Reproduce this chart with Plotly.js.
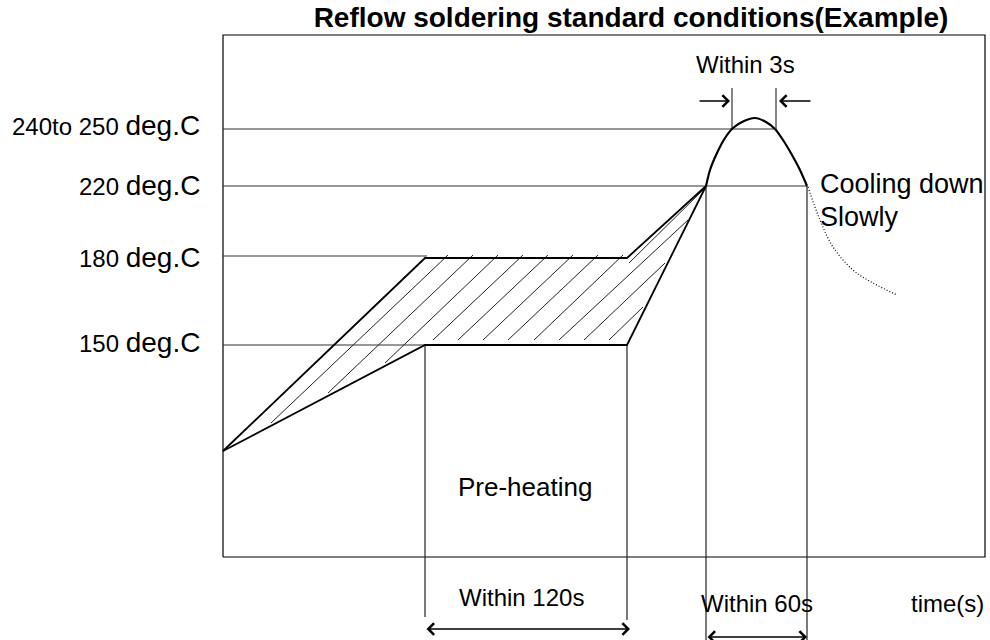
<!DOCTYPE html>
<html>
<head>
<meta charset="utf-8">
<script src="https://cdn.plot.ly/plotly-3.0.1.min.js"></script>
<style>html,body{margin:0;padding:0;background:#fff;}#chart{width:990px;height:640px;}</style>
</head>
<body>
<div id="chart"></div>
<script>
// ---- schematic data (x: time axis units, y: temperature level units) ----
const levelLabels = ['240to 250', '220', '180', '150'];
const levelY      = [428, 371, 301, 212];
const levelLineEnd = [552, 584, 204, 202];
const levelLabelY = [432, 372, 300, 215];

const upperX = [0, 202, 404, 483];
const upperY = [106, 299, 299, 371];
const lowerX = [0, 202, 404, 483];
const lowerY = [106, 212, 212, 371];

const peakX = [483, 487, 494, 502, 510, 521, 532, 543, 552, 560, 569, 577, 584];
const peakY = [371, 387, 404, 419, 429, 436, 439, 435, 428, 417, 402, 387, 371];

const coolX = [585, 597, 610, 630, 650, 674];
const coolY = [370, 337, 310, 287, 274, 262];

const hatchTopX = [225, 250, 275, 300, 325, 350, 375, 400, 465, 442, 420, 481];
const hatchTopY = [302, 302, 302, 302, 302, 302, 302, 302, 337, 294, 250, 368];
const hatchBotX = [48, 105, 162, 210, 235, 260, 285, 311, 336, 361, 386, 406];
const hatchBotY = [134, 164, 194, 217, 217, 217, 217, 217, 217, 217, 217, 294];

const guideX      = [202, 404, 483, 584];
const guideTop    = [212, 212, 371, 371];
const guideBottom = [-60, -63, -83, -83];

const peakGuideX = [509, 553];
const peakGuideBottom = 427;
const peakGuideTop = 469;

const frameX = [0, 762, 762, 0, 0];
const frameY = [0, 0, 522, 522, 0];

const span120 = [202, 407], span120Y = -72;
const span60  = [483, 584], span60Y = -80;
const within3Left = [475, 507], within3Right = [589, 556], within3Y = 456;

// ---- build traces ----
function segs(x0, y0, x1, y1) {
  const xs = [], ys = [];
  for (let i = 0; i < x0.length; i++) { xs.push(x0[i], x1[i], null); ys.push(y0[i], y1[i], null); }
  return {x: xs, y: ys};
}
const F = 'Liberation Sans, Arial, Helvetica, sans-serif';
const traces = [];
const line = (x, y, w, extra) => Object.assign({type: 'scatter', mode: 'lines', x: x, y: y, hoverinfo: 'skip',
  line: Object.assign({color: '#000', width: w}, extra || {})});

traces.push(line(frameX, frameY, 1.2));
const lv = segs(levelY.map(() => 0), levelY, levelLineEnd, levelY);
traces.push(line(lv.x, lv.y, 1.1, {color: '#333'}));
const h = segs(hatchBotX, hatchBotY, hatchTopX, hatchTopY);
traces.push(line(h.x, h.y, 1, {color: '#222'}));
const g = segs(guideX, guideTop, guideX, guideBottom);
traces.push(line(g.x, g.y, 1.2, {color: '#222'}));
const pg = segs(peakGuideX, peakGuideX.map(() => peakGuideBottom), peakGuideX, peakGuideX.map(() => peakGuideTop));
traces.push(line(pg.x, pg.y, 1.1, {color: '#222'}));
traces.push(line(upperX, upperY, 1.8));
traces.push(line(lowerX, lowerY, 1.8));
traces.push(line(peakX, peakY, 2.2, {shape: 'spline', smoothing: 0.7}));
traces.push(line(coolX, coolY, 1.3, {dash: '1px,2px', shape: 'spline', color: '#111'}));

// ---- annotations ----
const ann = [];
levelLabels.forEach((t, i) => ann.push({x: -21, y: levelLabelY[i], xref: 'x', yref: 'y', xanchor: 'right', yanchor: 'middle',
  showarrow: false, text: t + ' <span style="font-size:28px">deg.C</span>', font: {family: F, size: 24, color: '#000'}}));
const txt = (t, x, y, xa, size) => ann.push({x: x, y: y, xref: 'x', yref: 'y', xanchor: xa, yanchor: 'middle', showarrow: false,
  text: t, font: {family: F, size: size, color: '#000'}});
txt('Within 3s', 522, 493, 'center', 24);
txt('Within 120s', 298, -40, 'center', 24);
txt('Within 60s', 534, -46, 'center', 24);
txt('time(s)', 763, -46, 'right', 24);
txt('Pre-heating', 302, 70, 'center', 26);
txt('Cooling down', 595, 373, 'left', 27);
txt('Slowly', 595, 340, 'left', 27);

const arrow = (x, y, ax, ay, side) => ann.push({x: x, y: y, ax: ax, ay: ay, xref: 'x', yref: 'y', axref: 'x', ayref: 'y',
  text: '', showarrow: true, arrowhead: 4, arrowsize: 1.4, arrowwidth: 1.6, arrowcolor: '#000', arrowside: side, standoff: 0, startstandoff: 0,
  startarrowhead: 4, startarrowsize: 1.4});
arrow(span120[1], span120Y, span120[0], span120Y, 'end+start');
arrow(span60[1], span60Y, span60[0], span60Y, 'end+start');
arrow(within3Left[1], within3Y, within3Left[0], within3Y, 'end');
arrow(within3Right[1], within3Y, within3Right[0], within3Y, 'end');

const layout = {
  width: 990, height: 640,
  margin: {l: 0, r: 0, t: 0, b: 0, pad: 0},
  paper_bgcolor: '#fff', plot_bgcolor: '#fff',
  showlegend: false,
  title: {text: '<b>Reflow soldering standard conditions(Example)</b>', x: 631 / 990, xanchor: 'center', y: 1 - 17 / 640, yanchor: 'middle',
    font: {family: F, size: 28, color: '#000'}},
  xaxis: {range: [-223, 767], visible: false, fixedrange: true},
  yaxis: {range: [-83, 557], visible: false, fixedrange: true},
  annotations: ann
};
Plotly.newPlot('chart', traces, layout, {staticPlot: true, displayModeBar: false});
</script>
</body>
</html>
